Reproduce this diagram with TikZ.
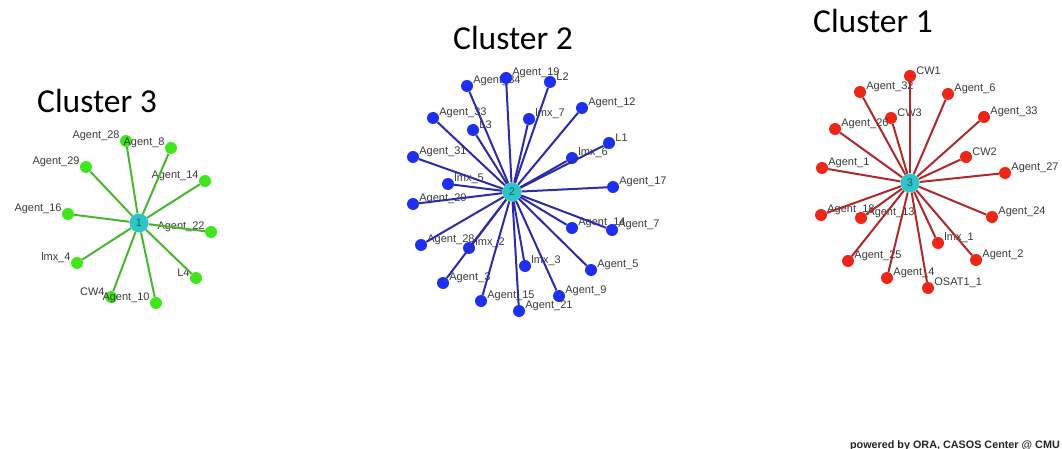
\documentclass[tikz,border=0pt]{standalone}
\usepackage{fontspec}
\usepackage{xcolor}
\setmainfont{Liberation Sans}
\newfontfamily\titlefont{Carlito}
\definecolor{cgreen}{HTML}{3FE61C}
\definecolor{cgreenedge}{HTML}{4AB52E}
\definecolor{cblue}{HTML}{1E30EE}
\definecolor{cblueedge}{HTML}{2C2CA6}
\definecolor{cred}{HTML}{EE2618}
\definecolor{crededge}{HTML}{AE2A2A}
\definecolor{ccyan}{HTML}{2EC4C8}
\definecolor{chubtext}{HTML}{1B6266}
\definecolor{ctext}{HTML}{3A3A3A}
\tikzset{
	lbl/.style={font=\fontsize{11}{11}\selectfont, text=ctext, inner sep=0pt},
	leaf/.style={circle, minimum size=12pt, inner sep=0pt, label distance=3pt},
	hub/.style={circle, fill=ccyan, minimum size=19pt, inner sep=0pt, font=\fontsize{11}{11}\selectfont, text=chubtext},
	g3/.style={leaf, fill=cgreen, label={[lbl, yshift=5pt]left:#1}},
	b2/.style={leaf, fill=cblue, label={[lbl, yshift=5pt]right:#1}},
	r1/.style={leaf, fill=cred, label={[lbl, yshift=5pt]right:#1}},
	e3/.style={draw=cgreenedge, line width=2pt},
	e2/.style={draw=cblueedge, line width=2pt},
	e1/.style={draw=crededge, line width=2pt},
	title/.style={font=\titlefont\fontsize{33.5}{33.5}\selectfont, text=black, inner sep=0pt, anchor=base west}
}
\begin{document}
\begin{tikzpicture}[x=1pt, y=-1pt]
		\useasboundingbox (0,0) rectangle (1062,449);
		\node[title] (t3) at (37,113) {Cluster 3};
		\node[title] (t2) at (453,50) {Cluster 2};
		\node[title] (t1) at (813,33) {Cluster 1};
		\node[font=\bfseries\fontsize{10.8}{10.8}\selectfont, text=black!85, inner sep=0pt, anchor=base east] (ora) at (1060,448) {powered by ORA, CASOS Center @ CMU};

		\node[hub] (c3) at (139,223) {1};
		\node[g3=Agent\_28] (g28) at (126,141) {};
		\node[g3=Agent\_8] (g8) at (171,148) {};
		\node[g3=Agent\_29] (g29) at (86,167) {};
		\node[g3=Agent\_14] (g14) at (205,181) {};
		\node[g3=Agent\_16] (g16) at (68,214) {};
		\node[g3=Agent\_22] (g22) at (211,232) {};
		\node[g3=lmx\_4] (gx4) at (77,263) {};
		\node[g3=L4] (gl4) at (196,278) {};
		\node[g3=CW4] (gcw4) at (111,297) {};
		\node[g3=Agent\_10] (g10) at (156,303) {};
		\draw[e3] (c3) -- (g28);
		\draw[e3] (c3) -- (g8);
		\draw[e3] (c3) -- (g29);
		\draw[e3] (c3) -- (g14);
		\draw[e3] (c3) -- (g16);
		\draw[e3] (c3) -- (g22);
		\draw[e3] (c3) -- (gx4);
		\draw[e3] (c3) -- (gl4);
		\draw[e3] (c3) -- (gcw4);
		\draw[e3] (c3) -- (g10);

		\node[hub] (c2) at (512,192) {2};
		\node[b2=Agent\_34] (b34) at (467,86) {};
		\node[b2=Agent\_19] (b19) at (506,78) {};
		\node[b2=L2] (bl2) at (550,82) {};
		\node[b2=Agent\_12] (b12) at (582,108) {};
		\node[b2=Agent\_33] (b33) at (433,118) {};
		\node[b2=lmx\_7] (bx7) at (529,119) {};
		\node[b2=L3] (bl3) at (473,130) {};
		\node[b2=L1] (bl1) at (609,143) {};
		\node[b2=Agent\_31] (b31) at (413,157) {};
		\node[b2=lmx\_6] (bx6) at (572,158) {};
		\node[b2=lmx\_5] (bx5) at (448,184) {};
		\node[b2=Agent\_17] (b17) at (613,187) {};
		\node[b2=Agent\_20] (b20) at (413,204) {};
		\node[b2=Agent\_14] (b14) at (572,228) {};
		\node[b2=Agent\_7] (b7) at (612,230) {};
		\node[b2=Agent\_28] (b28) at (421,245) {};
		\node[b2=lmx\_2] (bx2) at (469,248) {};
		\node[b2=lmx\_3] (bx3) at (525,266) {};
		\node[b2=Agent\_5] (b5) at (591,270) {};
		\node[b2=Agent\_3] (b3) at (443,283) {};
		\node[b2=Agent\_9] (b9) at (559,296) {};
		\node[b2=Agent\_15] (b15) at (481,301) {};
		\node[b2=Agent\_21] (b21) at (519,311) {};
		\draw[e2] (c2) -- (b34);
		\draw[e2] (c2) -- (b19);
		\draw[e2] (c2) -- (bl2);
		\draw[e2] (c2) -- (b12);
		\draw[e2] (c2) -- (b33);
		\draw[e2] (c2) -- (bx7);
		\draw[e2] (c2) -- (bl3);
		\draw[e2] (c2) -- (bl1);
		\draw[e2] (c2) -- (b31);
		\draw[e2] (c2) -- (bx6);
		\draw[e2] (c2) -- (bx5);
		\draw[e2] (c2) -- (b17);
		\draw[e2] (c2) -- (b20);
		\draw[e2] (c2) -- (b14);
		\draw[e2] (c2) -- (b7);
		\draw[e2] (c2) -- (b28);
		\draw[e2] (c2) -- (bx2);
		\draw[e2] (c2) -- (bx3);
		\draw[e2] (c2) -- (b5);
		\draw[e2] (c2) -- (b3);
		\draw[e2] (c2) -- (b9);
		\draw[e2] (c2) -- (b15);
		\draw[e2] (c2) -- (b21);

		\node[hub] (c1) at (910,183) {3};
		\node[r1=CW1] (rcw1) at (910,76) {};
		\node[r1=Agent\_32] (r32) at (860,92) {};
		\node[r1=Agent\_6] (r6) at (948,94) {};
		\node[r1=Agent\_33] (r33) at (984,117) {};
		\node[r1=CW3] (rcw3) at (891,118) {};
		\node[r1=Agent\_26] (r26) at (835,129) {};
		\node[r1=CW2] (rcw2) at (966,157) {};
		\node[r1=Agent\_1] (ra1) at (822,168) {};
		\node[r1=Agent\_27] (r27) at (1005,173) {};
		\node[r1=Agent\_18] (r18) at (821,215) {};
		\node[r1=Agent\_13] (r13) at (861,218) {};
		\node[r1=Agent\_24] (r24) at (992,217) {};
		\node[r1=lmx\_1] (rx1) at (938,243) {};
		\node[r1=Agent\_25] (r25) at (848,261) {};
		\node[r1=Agent\_2] (ra2) at (976,260) {};
		\node[r1=Agent\_4] (ra4) at (887,278) {};
		\node[r1=OSAT1\_1] (rosat) at (928,288) {};
		\draw[e1] (c1) -- (rcw1);
		\draw[e1] (c1) -- (r32);
		\draw[e1] (c1) -- (r6);
		\draw[e1] (c1) -- (r33);
		\draw[e1] (c1) -- (rcw3);
		\draw[e1] (c1) -- (r26);
		\draw[e1] (c1) -- (rcw2);
		\draw[e1] (c1) -- (ra1);
		\draw[e1] (c1) -- (r27);
		\draw[e1] (c1) -- (r18);
		\draw[e1] (c1) -- (r13);
		\draw[e1] (c1) -- (r24);
		\draw[e1] (c1) -- (rx1);
		\draw[e1] (c1) -- (r25);
		\draw[e1] (c1) -- (ra2);
		\draw[e1] (c1) -- (ra4);
		\draw[e1] (c1) -- (rosat);
	\end{tikzpicture}
\end{document}
